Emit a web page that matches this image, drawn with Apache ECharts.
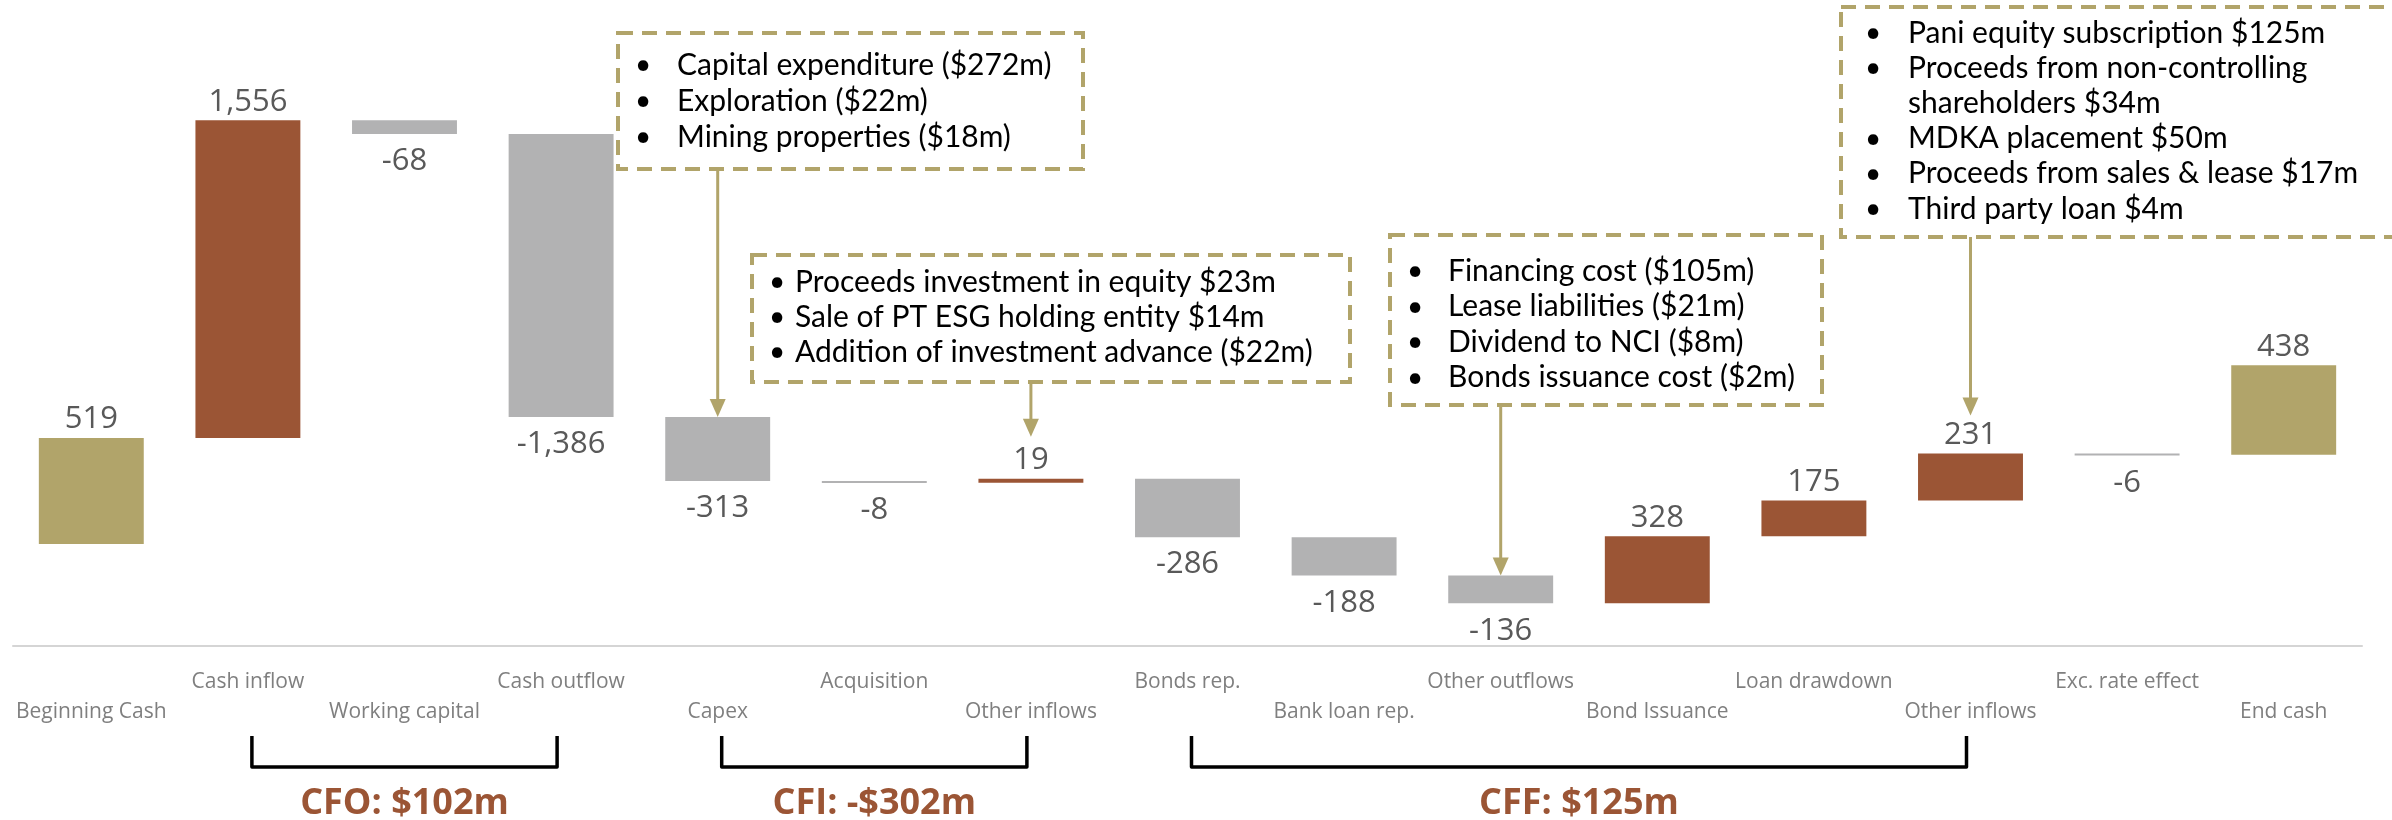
<!DOCTYPE html>
<html>
<head>
<meta charset="utf-8">
<script src="https://cdn.jsdelivr.net/npm/echarts@6/dist/echarts.min.js"></script>
<style>
html,body{margin:0;padding:0;background:#fff;}
#chart{width:2392px;height:820px;}
</style>
</head>
<body>
<div id="chart"></div>
<script>
// ---- data ----
const categories = ['Beginning Cash','Cash inflow','Working capital','Cash outflow','Capex','Acquisition','Other inflows','Bonds rep.','Bank loan rep.','Other outflows','Bond Issuance','Loan drawdown','Other inflows','Exc. rate effect','End cash'];
const values = [519, 1556, -68, -1386, -313, -8, 19, -286, -188, -136, 328, 175, 231, -6, 438];
const isTotal = [true, false, false, false, false, false, false, false, false, false, false, false, false, false, true];

const groupLabels = ['CFO: $102m', 'CFI: -$302m', 'CFF: $125m'];
const groupFrom = [1, 4, 7];
const groupTo = [3, 6, 12];

const noteTargets = [4, 6, 9, 12];
const noteLines = [
  ['Capital expenditure ($272m)', 'Exploration ($22m)', 'Mining properties ($18m)'],
  ['Proceeds investment in equity $23m', 'Sale of PT ESG holding entity $14m', 'Addition of investment advance ($22m)'],
  ['Financing cost ($105m)', 'Lease liabilities ($21m)', 'Dividend to NCI ($8m)', 'Bonds issuance cost ($2m)'],
  ['Pani equity subscription $125m', 'Proceeds from non-controlling', 'shareholders $34m', 'MDKA placement $50m', 'Proceeds from sales & lease $17m', 'Third party loan $4m']
];
const noteBulleted = [
  [true, true, true],
  [true, true, true],
  [true, true, true, true],
  [true, true, false, true, true, true]
];

// ---- styles / layout (not data) ----
const GOLD = '#B1A46A';
const BROWN = '#9B5535';
const GRAY = '#B2B2B3';
const LABEL = '#595959';
const boxRects = [ [618, 33, 465, 136], [752, 255, 598, 127], [1390, 235, 432, 170], [1841, 7, 560, 230] ];
const boxBulletX = [643, 777, 1415, 1873];
const boxTextX = [677, 795, 1448, 1908];
const boxFirstY = [65, 282, 271, 33];
const boxLineH = [36, 35, 35.5, 35.2];
const arrowClear = [0, 42, 0, 38];

// waterfall build: first total from zero, later totals float on the running total
const wf = [];
let cum = 0;
values.forEach((v, i) => {
  let lo, hi, kind;
  if (isTotal[i]) {
    lo = cum; hi = cum + v; cum = cum + v; kind = 'total';
  } else {
    const s = cum, e = cum + v;
    lo = Math.min(s, e); hi = Math.max(s, e); cum = e;
    kind = v >= 0 ? 'up' : 'down';
  }
  wf.push([i, lo, hi, v, kind]);
});

const chart = echarts.init(document.getElementById('chart'), null, {renderer: 'canvas'});

const fmt = v => (v < 0 ? '-' : '') + Math.abs(v).toLocaleString('en-US');

const option = {
  animation: false,
  backgroundColor: '#fff',
  grid: {left: 13, right: 30, top: 13, bottom: 174, containLabel: false},
  xAxis: {
    type: 'category',
    data: categories,
    axisLine: {onZero: false, lineStyle: {color: '#D5D5D5', width: 2}},
    axisTick: {show: false},
    axisLabel: {
      interval: 0,
      margin: 21,
      color: '#7F7F7F',
      fontFamily: 'Open Sans',
      fontSize: 21,
      lineHeight: 30,
      formatter: (val, idx) => (idx % 2 === 0 ? '\n' + val : val)
    },
    splitLine: {show: false}
  },
  yAxis: {
    type: 'value', min: -500, max: 2600, show: false, splitLine: {show: false}
  },
  series: [{
    type: 'custom',
    data: wf,
    encode: {x: 0, y: [1, 2]},
    renderItem: (params, api) => {
      const i = api.value(0), lo = api.value(1), hi = api.value(2), v = api.value(3);
      const idx = params.dataIndex;
      const kind = wf[idx][4];
      const pTop = api.coord([i, hi]);
      const pBot = api.coord([i, lo]);
      const bw = api.size([1, 0])[0] * 0.67;
      const h = Math.max(pBot[1] - pTop[1], 2);
      const color = kind === 'total' ? GOLD : (kind === 'up' ? BROWN : GRAY);
      const below = v < 0;
      return {
        type: 'group',
        children: [
          {type: 'rect', shape: {x: pTop[0] - bw / 2, y: pTop[1], width: bw, height: h}, style: {fill: color}},
          {type: 'text', style: {
            text: fmt(v), x: pTop[0], y: below ? pTop[1] + h + 12 : pTop[1] - 3,
            align: 'center', textAlign: 'center',
            verticalAlign: below ? 'top' : 'bottom', textVerticalAlign: below ? 'top' : 'bottom',
            font: '31px "Open Sans"', fill: LABEL
          }}
        ]
      };
    }
  }]
};
chart.setOption(option);

// ---- annotations computed from axis scales ----
const px = (i, val) => chart.convertToPixel({xAxisIndex: 0, yAxisIndex: 0}, [i, val]);
const graphics = [];

// group brackets
groupLabels.forEach((lab, g) => {
  const x1 = px(groupFrom[g], 0)[0] + 4;
  const x2 = px(groupTo[g], 0)[0] - 4;
  graphics.push({type: 'polyline', silent: true,
    shape: {points: [[x1, 736], [x1, 767], [x2, 767], [x2, 736]]},
    style: {stroke: '#000', lineWidth: 3.5, fill: null, lineJoin: 'round'}});
  graphics.push({type: 'text', silent: true,
    style: {text: lab, x: (x1 + x2) / 2, y: 804, align: 'center', textAlign: 'center',
      verticalAlign: 'middle', textVerticalAlign: 'middle',
      font: 'bold 36px "Open Sans"', fill: BROWN}});
});

// note boxes and arrows
noteTargets.forEach((t, n) => {
  const r = boxRects[n];
  graphics.push({type: 'rect', silent: true, shape: {x: r[0], y: r[1], width: r[2], height: r[3]},
    style: {fill: null, stroke: GOLD, lineWidth: 4, lineDash: [15, 9]}});
  noteLines[n].forEach((ln, k) => {
    const y = boxFirstY[n] + k * boxLineH[n];
    if (noteBulleted[n][k]) {
      graphics.push({type: 'text', silent: true, style: {text: '•', x: boxBulletX[n], y: y,
        align: 'center', textAlign: 'center', verticalAlign: 'middle', textVerticalAlign: 'middle',
        font: '28px Lato', fill: '#000'}});
    }
    graphics.push({type: 'text', silent: true, style: {text: ln, x: boxTextX[n], y: y,
      align: 'left', textAlign: 'left', verticalAlign: 'middle', textVerticalAlign: 'middle',
      font: '30px Lato', fill: '#000'}});
  });
  const barTop = px(t, wf[t][2]);
  const ax = barTop[0];
  const y0 = r[1] + r[3];
  const tip = barTop[1] - arrowClear[n];
  graphics.push({type: 'line', silent: true, shape: {x1: ax, y1: y0, x2: ax, y2: tip - 14},
    style: {stroke: GOLD, lineWidth: 3}});
  graphics.push({type: 'polygon', silent: true, shape: {points: [[ax - 8, tip - 18], [ax + 8, tip - 18], [ax, tip]]},
    style: {fill: GOLD}});
});

chart.setOption({graphic: {elements: graphics}});
</script>
</body>
</html>
